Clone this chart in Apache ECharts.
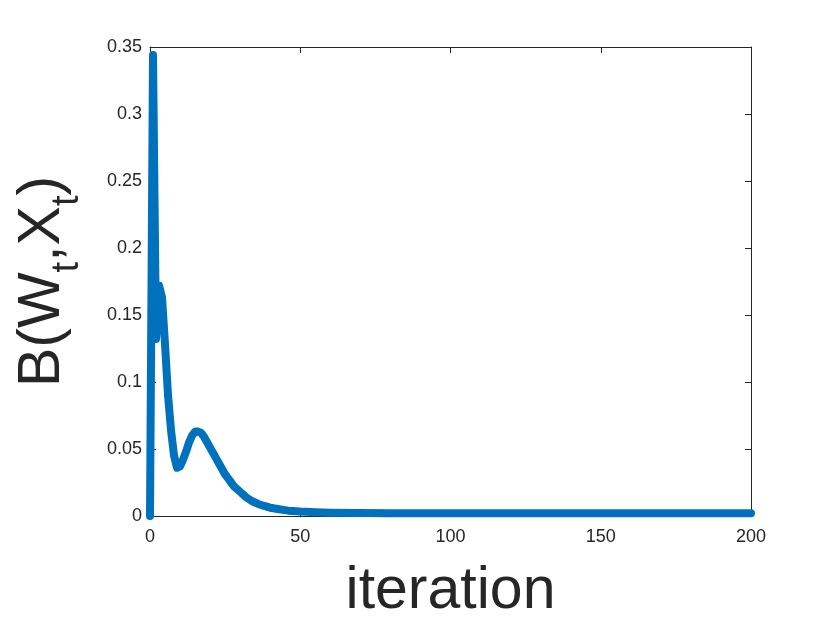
<!DOCTYPE html>
<html>
<head>
<meta charset="utf-8">
<script src="https://cdn.jsdelivr.net/npm/echarts@6/dist/echarts.min.js"></script>
<style>html,body{margin:0;padding:0;background:#fff;}#c{width:830px;height:623px;}</style>
</head>
<body>
<div id="c"></div>
<script>
// Data
var iterations = [0,1,2,3,4,5,6,7,8,9,10,11,12,13,14,15,16,17,18,19,20,21,22,23,24,25,26,27,28,30,32,34,36,38,40,43,46,50,55,60,70,80,100,150,200];
var values = [0,0.344,0.132,0.172,0.163,0.128,0.09,0.064,0.045,0.036,0.037,0.042,0.048,0.055,0.06,0.063,0.063,0.062,0.059,0.055,0.051,0.047,0.043,0.039,0.035,0.031,0.028,0.025,0.022,0.018,0.014,0.011,0.009,0.0075,0.0062,0.005,0.004,0.0033,0.0028,0.0025,0.0022,0.002,0.002,0.002,0.002];
var xTicks = [0,50,100,150,200];
var yTicks = [0,0.05,0.1,0.15,0.2,0.25,0.3,0.35];

var seriesData = iterations.map(function(it, i){ return [it, values[i]]; });
var axisColor = '#262626';
var fontFam = '"Liberation Sans", Arial, Helvetica, sans-serif';

var chart = echarts.init(document.getElementById('c'), null, {renderer:'canvas'});
var baseX = {
  type:'value', min:0, max:200, interval:50,
  axisLine:{show:true, onZero:false, lineStyle:{color:axisColor, width:1}},
  axisTick:{show:true, inside:true, length:6, lineStyle:{color:axisColor}},
  splitLine:{show:false}
};
var baseY = {
  type:'value', min:0, max:0.35, interval:0.05,
  axisLine:{show:true, onZero:false, lineStyle:{color:axisColor, width:1}},
  axisTick:{show:true, inside:true, length:6, lineStyle:{color:axisColor}},
  splitLine:{show:false}
};
chart.setOption({
  animation:false,
  backgroundColor:'#ffffff',
  grid:{left:150, right:79, top:47, bottom:107, containLabel:false, outerBoundsMode:'none'},
  xAxis:[
    Object.assign({}, baseX, {
      position:'bottom',
      axisLabel:{show:true, margin:12, color:axisColor, fontSize:18, fontFamily:fontFam,
        formatter:function(v){ return xTicks.indexOf(v) >= 0 ? String(v) : ''; }},
      name:'iteration', nameLocation:'middle', nameGap:46,
      nameTextStyle:{color:axisColor, fontSize:59, fontFamily:fontFam}
    }),
    Object.assign({}, baseX, {position:'top', axisLabel:{show:false}})
  ],
  yAxis:[
    Object.assign({}, baseY, {
      position:'left',
      axisLabel:{show:true, margin:8, color:axisColor, fontSize:18, fontFamily:fontFam,
        formatter:function(v){
          for (var k=0;k<yTicks.length;k++){ if (Math.abs(yTicks[k]-v)<1e-9) return String(yTicks[k]); }
          return '';
        }},
      name:'{a|B(W}{s|t}{a|,X}{s|t}{a|)}', nameLocation:'middle', nameGap:78, nameRotate:90,
      nameTextStyle:{color:axisColor, fontFamily:fontFam,
        rich:{
          a:{fontSize:59, fontFamily:fontFam, color:axisColor, lineHeight:59, verticalAlign:'top'},
          s:{fontSize:38, fontFamily:fontFam, color:axisColor, lineHeight:38, verticalAlign:'top', padding:[36,0,0,0]}
        }}
    }),
    Object.assign({}, baseY, {position:'right', axisLabel:{show:false}})
  ],
  series:[{
    type:'line', xAxisIndex:0, yAxisIndex:0,
    data:seriesData, showSymbol:false, symbol:'none', clip:false,
    lineStyle:{color:'#0072BD', width:8, cap:'round', join:'round'},
    z:3
  }]
});
</script>
</body>
</html>
